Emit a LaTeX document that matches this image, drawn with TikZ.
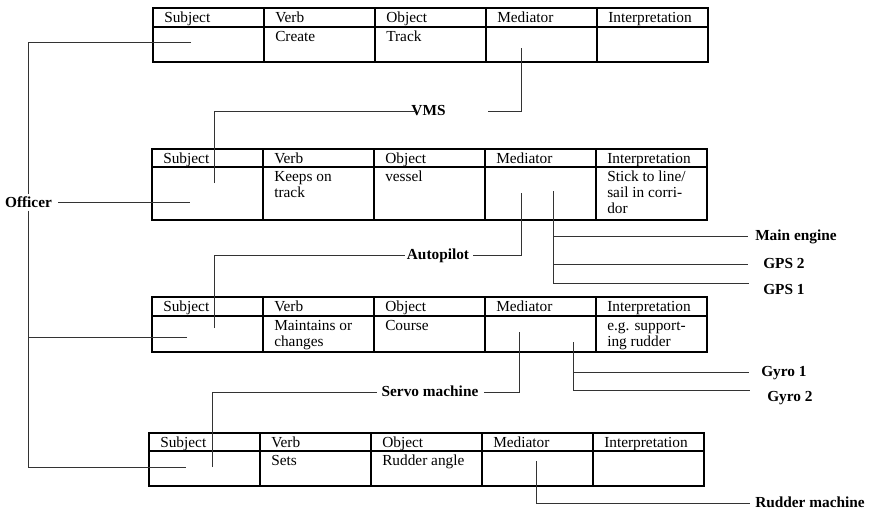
\documentclass[tikz,border=0pt]{standalone}
\usepackage{fontspec}
\setmainfont{Liberation Serif}
\begin{document}
\begin{tikzpicture}[x=0.75pt,y=-0.75pt,
  tablerule/.style={line width=1.1pt, black},
  link/.style={line width=0.7pt, black!80},
  cell/.style={anchor=north west, inner sep=0pt, align=left,
    font=\fontsize{11.5}{12}\selectfont},
  tag/.style={font=\fontsize{11.5}{12}\selectfont\bfseries, inner sep=0pt,
    text height=0.68em, text depth=0pt},
]
\useasboundingbox (0,0) rectangle (869,511);

% one five-column table: #1 name prefix, #2 left, #3 top, #4 header height, #5 body height
\newcommand\srtable[5]{%
  \draw[tablerule] (#2,#3) rectangle (#2+555,#3+#4+#5);
  \draw[tablerule] (#2,#3+#4) -- (#2+555,#3+#4);
  \foreach \k in {1,...,4}
    \draw[tablerule] (#2+111*\k,#3) -- (#2+111*\k,#3+#4+#5);
  \foreach \lbl [count=\k from 0] in {Subject,Verb,Object,Mediator,Interpretation}
    \node[cell] (#1h\k) at (#2+111*\k+11,#3+3) {\strut\lbl};
}

% ---- tables ----
\srtable{ta}{153}{8}{19}{35}
\node[cell] (tab1) at (275,30) {\strut Create};
\node[cell] (tab2) at (386,30) {\strut Track};

\srtable{tb}{152}{149}{18}{53}
\node[cell] (tbb1) at (274,170) {\strut Keeps on\\track};
\node[cell] (tbb2) at (385,170) {\strut vessel};
\node[cell] (tbb4) at (607,170) {\strut Stick to line/\\sail in corri-\\dor};

\srtable{tc}{152}{297}{19}{36}
\node[cell] (tcb1) at (274,319) {\strut Maintains or\\changes};
\node[cell] (tcb2) at (385,319) {\strut Course};
\node[cell] (tcb4) at (607,319) {\strut e.g. support-\\ing rudder};

\srtable{td}{149}{433}{18}{35}
\node[cell] (tdb1) at (271,454) {\strut Sets};
\node[cell] (tdb2) at (382,454) {\strut Rudder angle};

% ---- actors ----
\node[tag, inner xsep=4.5pt, inner ysep=2.5pt, anchor=base] (officer) at (28.5,207) {Officer};
\node[tag] (vms) at (428.5,111) {VMS};
\node[tag] (autopilot) at (438,255) {Autopilot};
\node[tag] (servo) at (430,392) {Servo machine};
\node[tag, anchor=west] (mainengine) at (755,236) {Main engine};
\node[tag, anchor=west] (gps2) at (763,264) {GPS 2};
\node[tag, anchor=west] (gps1) at (763,290) {GPS 1};
\node[tag, anchor=west] (gyro1) at (761,372) {Gyro 1};
\node[tag, anchor=west] (gyro2) at (767,397) {Gyro 2};
\node[tag, anchor=west] (ruddermachine) at (755,503) {Rudder machine};

% ---- attachment points inside the cells ----
\coordinate (subjA) at (191,42);
\coordinate (subjB) at (190,202);
\coordinate (subjC) at (187,337);
\coordinate (subjD) at (186,467);
\coordinate (medA) at (521,48);
\coordinate (medB) at (521,193);
\coordinate (medC) at (519,332);
\coordinate (medD) at (536,461);
\coordinate (inB) at (214,183);
\coordinate (inC) at (214,328);
\coordinate (inD) at (212,467);
\coordinate (sensB) at (553,191);
\coordinate (sensC) at (573,342);

% ---- line ends just before the labels ----
\coordinate (toME) at ([xshift=-5.25pt]mainengine.west);
\coordinate (toGPS2) at ([xshift=-11.25pt]gps2.west);
\coordinate (toGPS1) at ([shift={(-14,-7)}]gps1.west);
\coordinate (toGyro1) at ([xshift=-9pt]gyro1.west);
\coordinate (toGyro2) at ([shift={(-17,-7)}]gyro2.west);
\coordinate (toRM) at ([xshift=-3.75pt]ruddermachine.west);

% ---- officer as subject of every table ----
\draw[link] (subjA) -| (officer.north);
\draw[link] (officer.south) |- (subjD);
\draw[link] (subjC) -- (subjC -| officer.south);
\draw[link] (officer.east) -- (officer.east -| subjB);

% ---- mediators becoming subjects of the next table ----
\draw[link] (inB) |- ([xshift=3.75pt]vms.west);
\draw[link] (medA) |- ([xshift=31.5pt]vms.east);
\draw[link] (inC) |- ([xshift=-1.5pt]autopilot.west);
\draw[link] (medB) |- ([xshift=3pt]autopilot.east);
\draw[link] (inD) |- ([xshift=-3pt]servo.west);
\draw[link] (medC) |- ([xshift=3.75pt]servo.east);

% ---- further mediators ----
\draw[link] (sensB) |- (toGPS1);
\draw[link] (toME -| sensB) -- (toME);
\draw[link] (toGPS2 -| sensB) -- (toGPS2);
\draw[link] (sensC) |- (toGyro2);
\draw[link] (toGyro1 -| sensC) -- (toGyro1);
\draw[link] (medD) |- (toRM);
\end{tikzpicture}
\end{document}
